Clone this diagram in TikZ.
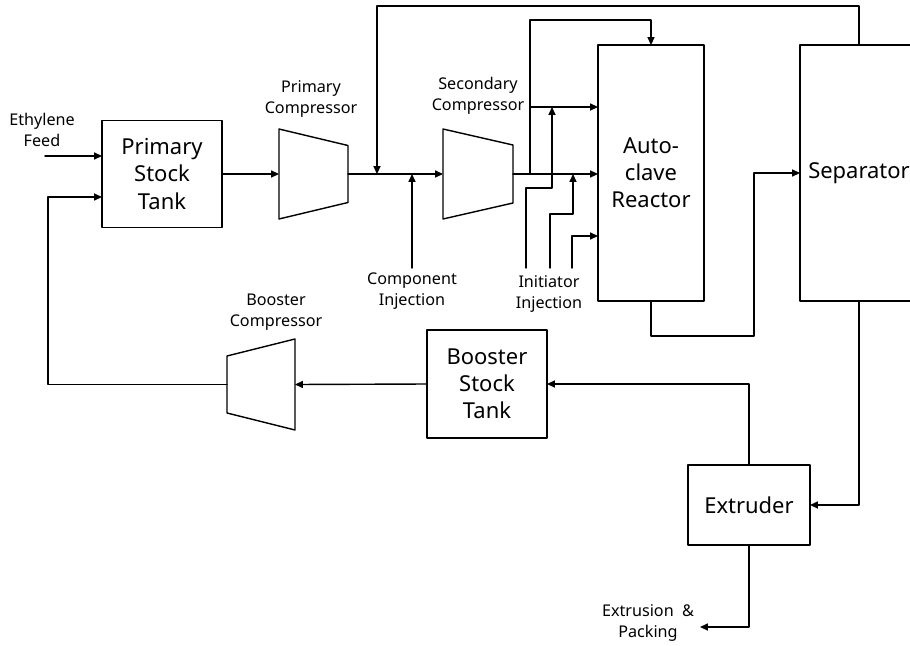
\documentclass[tikz,border=0pt]{standalone}
\usepackage{fontspec}
\setmainfont{Noto Sans}
\usepackage{tikz}
\usetikzlibrary{arrows.meta}
\usetikzlibrary{positioning}

\begin{document}
\begin{tikzpicture}[
        x=0.02cm, y=-0.02cm,
        line cap=round,
        line join=round,
        line width=0.8pt,
        >={Triangle[length=4.5pt,width=4pt]},
        blk/.style={draw, inner sep=0pt, outer sep=0pt, align=center,
            font=\fontsize{12.5}{15.4}\selectfont},
        comp/.style={inner sep=0pt, outer sep=0pt},
        lbl/.style={align=center, inner sep=0pt, font=\fontsize{9.2}{12}\selectfont}
    ]
        \useasboundingbox (0,0) rectangle (910,646);

        % blocchi
        \node[blk, minimum width=2.4cm, minimum height=2.14cm] (pst) at (162,174) {Primary\\Stock\\Tank};
        \node[blk, minimum width=2.12cm, minimum height=5.12cm] (rea) at (651,173) {Auto-\\clave\\Reactor};
        \node[blk, minimum width=2.36cm, minimum height=5.12cm] (sep) at (859,173) {\raisebox{-0.09cm}{Separator}};
        \node[blk, minimum width=2.4cm, minimum height=2.16cm] (bst) at (487,384) {Booster\\Stock\\Tank};
        \node[blk, minimum width=2.44cm, minimum height=1.6cm] (ext) at (749,505) {Extruder};

        % compressori
        \node[comp, minimum width=1.38cm, minimum height=1.8cm] (pc) at (313.5,174) {};
        \node[comp, minimum width=1.4cm, minimum height=1.8cm] (sc) at (478,174) {};
        \node[comp, minimum width=1.36cm, minimum height=1.82cm] (bc) at (261,384.5) {};
        \draw (pc.north west) -- ([yshift=-0.33cm]pc.north east) -- ([yshift=0.33cm]pc.south east) -- (pc.south west) -- cycle;
        \draw (sc.north west) -- ([yshift=-0.32cm]sc.north east) -- ([yshift=0.32cm]sc.south east) -- (sc.south west) -- cycle;
        \draw ([yshift=-0.34cm]bc.north west) -- (bc.north east) -- (bc.south east) -- ([yshift=0.34cm]bc.south west) -- cycle;

        % etichette
        \node[lbl] (feedlbl) at (42,130) {Ethylene\\Feed};
        \node[lbl] (pclbl) at (311,99) {Primary\\Compressor};
        \node[lbl] (sclbl) at (478,96) {Secondary\\Compressor};
        \node[lbl] (cilbl) at (412,291) {Component\\Injection};
        \node[lbl] (iilbl) at (549,294) {Initiator\\Injection};
        \node[lbl] (bclbl) at (276,312) {Booster\\Compressor};
        \node[lbl] (packlbl) at (648,623) {Extrusion~~\&\\Packing};

        \coordinate (feed) at (45,156);
        \coordinate (top) at (377,6);
        \coordinate (ci) at (412,268);
        \coordinate (br) at (530,174);
        \coordinate (br2) at (530,107);
        \coordinate (ii1) at (526,268);
        \coordinate (ii2) at (550,268);
        \coordinate (ii3) at (572,268);
        \coordinate (retin) at (102,197);
        \coordinate (pack) at (700,627);

        % linea principale
        \draw[->] (feed) -- (feed -| pst.west);
        \draw[->] (pst.east) -- (pc.west);
        \draw[->] (pc.east) -- (sc.west);
        \draw[->] (sc.east) -- (sc.east -| rea.west);

        % ricircolo dal separatore
        \draw[->] (sep.north) |- (top) -- (top |- pc.east);
        \draw[->] (ci) -- (ci |- pc.east);

        % diramazioni verso il reattore
        \draw[->] (br) -- (530,20) -| (rea.north);
        \draw[->] (br2) -- (br2 -| rea.west);

        % iniezione iniziatore
        \draw[->] (ii1) -- ++(0,-80) -- ++(26,0) -- ++(0,-81);
        \draw[->] (ii2) -- ++(0,-54) -- ++(23,0) -- ++(0,-40);
        \draw[->] (ii3) -- ++(0,-32) -- ++(26,0);

        % reattore, separatore, estrusore
        \draw[->] (rea.south) |- (754,336) |- (sep.west);
        \draw[->] (sep.south) |- (ext.east);
        \draw[->] (ext.north) |- (bst.east);
        \draw[->] (ext.south) |- (pack);

        % booster
        \draw[->] (bst.west) -- (bc.east);
        \draw[->] (bc.west) -| (48,197) -- (retin);
    \end{tikzpicture}
\end{document}
